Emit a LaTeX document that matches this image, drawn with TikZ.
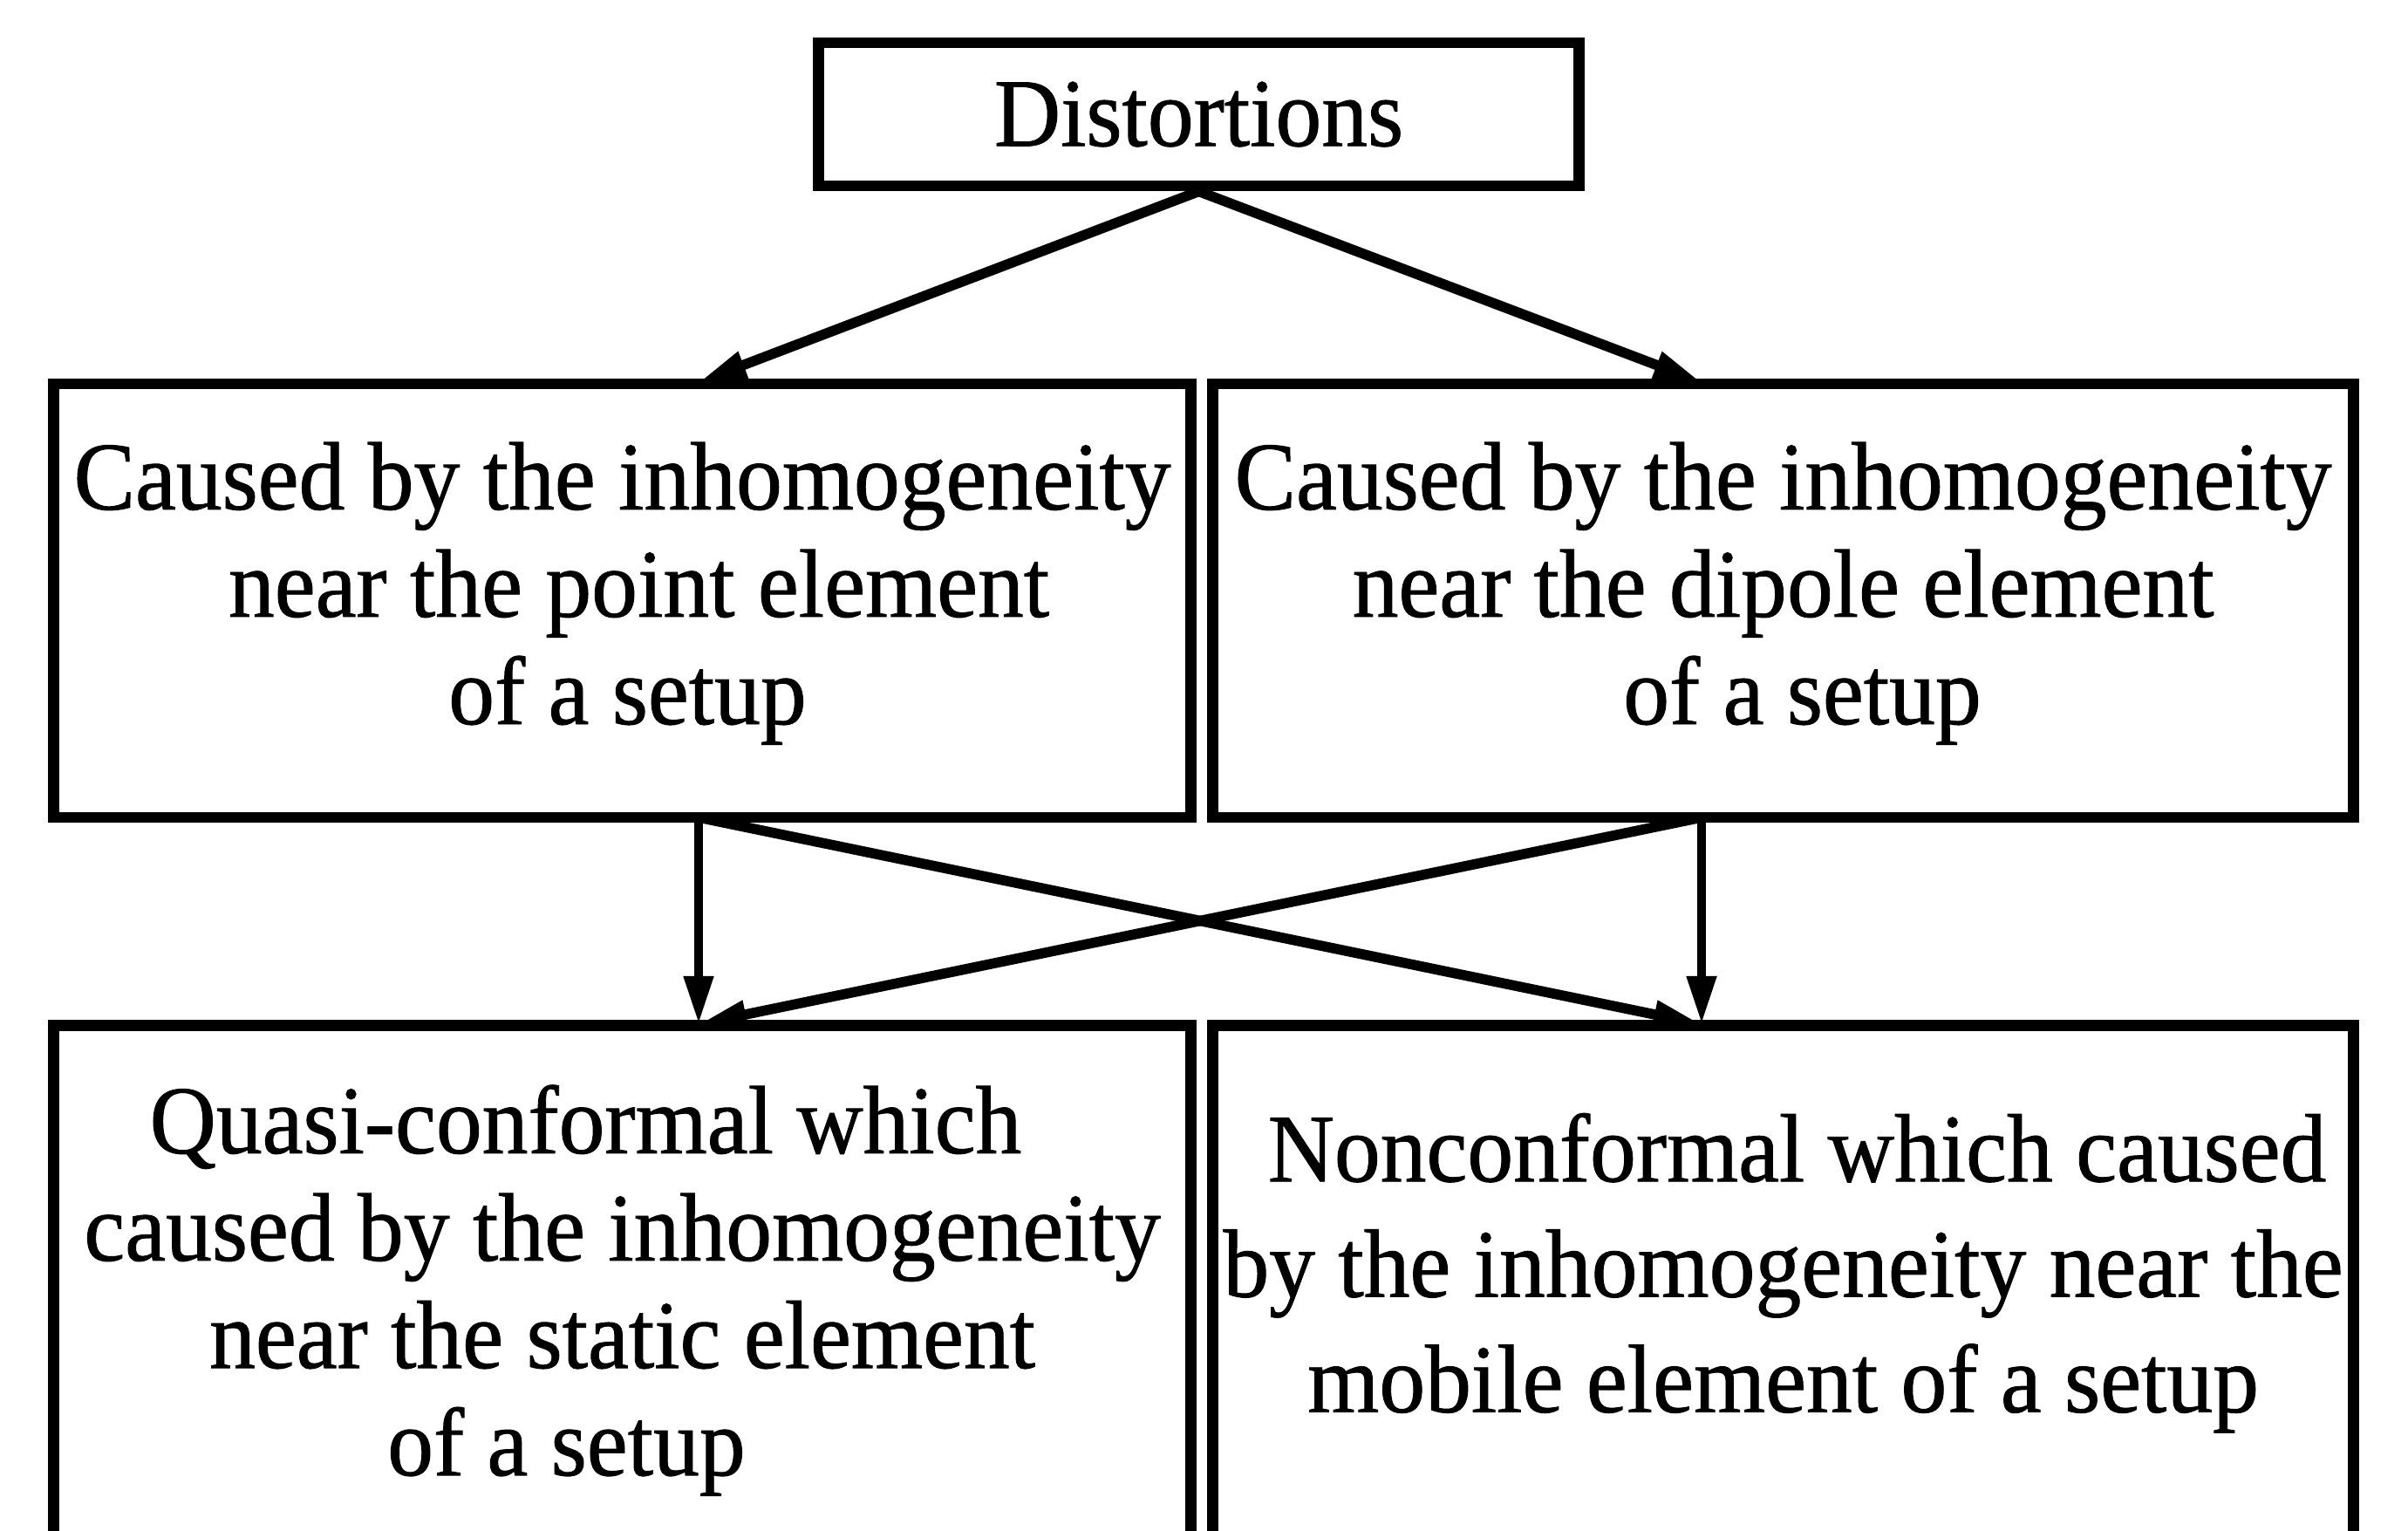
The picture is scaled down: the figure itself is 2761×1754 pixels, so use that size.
\documentclass[tikz,border=0pt]{standalone}
\usepackage{fontspec}
\setmainfont{Liberation Serif}[FakeStretch=0.95,FakeBold=0.8]
\usetikzlibrary{arrows.meta}
\begin{document}
\begin{tikzpicture}[x=0.01cm,y=-0.01cm,
  box/.style={draw, line width=3.6pt, rectangle, inner sep=0pt},
  txt/.style={align=center, inner sep=0pt, anchor=north, font=\fontsize{31.6}{35}\selectfont},
  diag/.style={line width=3.3pt, -{Triangle[length=0.55cm,width=0.3cm]}},
  vert/.style={line width=3pt, -{Triangle[length=0.55cm,width=0.32cm]}}]
\useasboundingbox (0,0) rectangle (2761,1754);
\clip (0,0) rectangle (2761,1754);
% boxes
\node[box, minimum width=8.71cm, minimum height=1.64cm, font=\fontsize{31.6}{35}\selectfont] (dist) at (1374.5,131) {Distortions};
\node[box, minimum width=13.03cm, minimum height=4.97cm] (ml) at (713.5,688.5) {};
\node[box, minimum width=13.07cm, minimum height=4.97cm] (mr) at (2044.5,688.5) {};
\node[box, minimum width=13.03cm, minimum height=6.74cm] (bl) at (713.5,1513) {};
\node[box, minimum width=13.07cm, minimum height=6.74cm] (br) at (2044.5,1513) {};
% texts
\node[txt] (mlt) at (713.5,497) {\strut Caused by the inhomogeneity\\ \hspace*{0.38cm}near the point element\\ \hspace*{0.12cm}of a setup};
\node[txt] (mrt) at (2044.5,497) {\strut Caused by the inhomogeneity\\ near the dipole element\\ \hspace*{0.44cm}of a setup};
\node[txt] (blt) at (713.5,1235) {\strut Quasi-conformal which\hspace*{0.84cm}\\ caused by the inhomogeneity\hspace*{0.16cm}\\ near the static element\hspace*{0.46cm}\\ of a setup\hspace*{1.28cm}};
\node[txt, font=\fontsize{31.6}{37.6}\selectfont] (brt) at (2044.5,1261) {\strut\hspace*{0.32cm}Nonconformal which caused\\ by the inhomogeneity near the\\ mobile element of a setup};
% connection points
\coordinate (mlIn) at (801,438);
\coordinate (mrIn) at (1951,438);
\coordinate (mlOut) at (801,937);
\coordinate (mrOut) at (1951,937);
\coordinate (blIn) at (801,1174);
\coordinate (brIn) at (1951,1174);
% connectors
\draw[diag] (dist.south) -- (mlIn);
\draw[diag] (dist.south) -- (mrIn);
\draw[vert] (mlOut) -- (blIn);
\draw[vert] (mrOut) -- (brIn);
\draw[diag] (mlOut) -- (brIn);
\draw[diag] (mrOut) -- (blIn);
\end{tikzpicture}
\end{document}
